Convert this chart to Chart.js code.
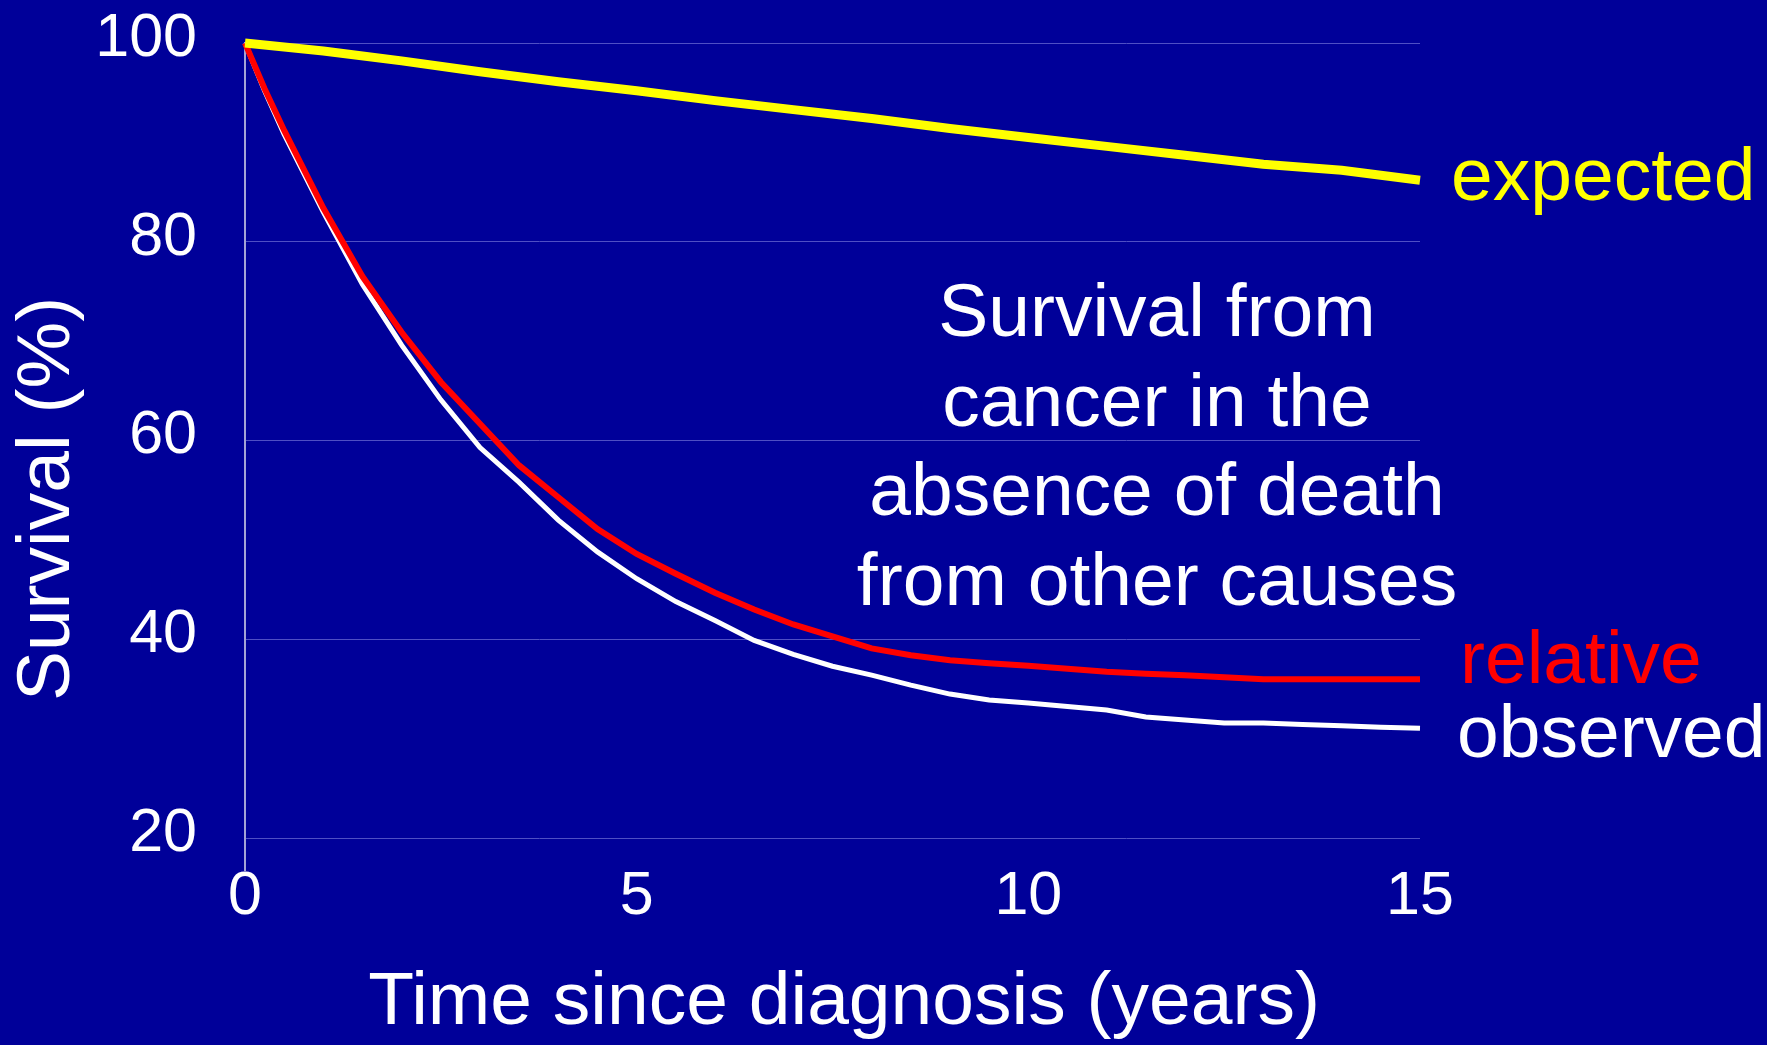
<!DOCTYPE html>
<html><head><meta charset="utf-8">
<script src="https://cdn.jsdelivr.net/npm/chart.js@4/dist/chart.umd.min.js"></script>
<style>html,body{margin:0;padding:0;background:#000099;overflow:hidden}canvas{display:block}</style>
</head><body>
<canvas id="c" width="1767" height="1045"></canvas>
<script>
// ---- data ----
const yearsExpected = [0,1,2,3,4,5,6,7,8,9,10,11,12,13,14,15];
const expected = [100,99.2,98.2,97.1,96.1,95.2,94.2,93.3,92.4,91.4,90.5,89.6,88.7,87.8,87.2,86.2];
const yearsMain = [0,0.25,0.5,1,1.5,2,2.5,3,3.5,4,4.5,5,5.5,6,6.5,7,7.5,8,8.5,9,9.5,10,10.5,11,11.5,12,12.5,13,13.5,14,14.5,15];
const relative = [100,95.4,91.2,83.4,76.5,70.9,65.9,61.7,57.5,54.3,51.1,48.6,46.6,44.7,43.0,41.5,40.3,39.1,38.4,37.9,37.6,37.35,37.05,36.75,36.55,36.4,36.2,36.0,36.0,36.0,36.0,36.0];
const observed = [100,95.2,90.8,83.0,75.7,69.6,64.1,59.3,55.8,52.0,48.8,46.1,43.8,41.9,39.9,38.5,37.3,36.4,35.4,34.5,33.9,33.6,33.25,32.9,32.2,31.9,31.6,31.6,31.45,31.3,31.15,31.05];
const xTicks = [0,5,10,15];
const yTicks = [20,40,60,80,100];
const seriesNames = ['expected','relative','observed'];
const seriesColors = ['#ffff00','#ff0000','#ffffff'];
const noteLines = ['Survival from','cancer in the','absence of death','from other causes'];
const xTitle = 'Time since diagnosis (years)';
const yTitle = 'Survival (%)';

const FONT = "'Liberation Sans', Arial, Helvetica, sans-serif";
const pts = (xs, ys) => xs.map((x, i) => ({x, y: ys[i]}));

const textPlugin = {
  id: 'texts',
  beforeDraw(chart) {
    const ctx = chart.ctx;
    ctx.save();
    ctx.fillStyle = '#000099';
    ctx.fillRect(0, 0, chart.width, chart.height);
    ctx.restore();
  },
  afterDraw(chart) {
    const ctx = chart.ctx;
    const area = chart.chartArea;
    ctx.save();
    ctx.font = '75px ' + FONT;
    ctx.textBaseline = 'alphabetic';
    // series labels
    ctx.textAlign = 'left';
    const lx = [area.right + 31, area.right + 40, area.right + 37];
    const ly = [200, 683, 757];
    seriesNames.forEach((n, i) => {
      ctx.fillStyle = seriesColors[i];
      ctx.fillText(n, lx[i], ly[i]);
    });
    // note
    ctx.fillStyle = '#ffffff';
    ctx.textAlign = 'center';
    noteLines.forEach((t, i) => ctx.fillText(t, 1157, 336 + i * 89.7));
    // axis titles
    ctx.fillText(xTitle, 844, 1024);
    ctx.translate(69, 499);
    ctx.rotate(-Math.PI / 2);
    ctx.fillText(yTitle, 0, 0);
    ctx.restore();
  }
};

new Chart(document.getElementById('c'), {
  type: 'line',
  data: {
    datasets: [
      {label: seriesNames[0], data: pts(yearsExpected, expected), borderColor: seriesColors[0], borderWidth: 9, pointRadius: 0, tension: 0, clip: false},
      {label: seriesNames[1], data: pts(yearsMain, relative), borderColor: seriesColors[1], borderWidth: 6, pointRadius: 0, tension: 0, clip: false},
      {label: seriesNames[2], data: pts(yearsMain, observed), borderColor: seriesColors[2], borderWidth: 5, pointRadius: 0, tension: 0, clip: false}
    ]
  },
  options: {
    responsive: false,
    animation: false,
    devicePixelRatio: 1,
    layout: {padding: {top: 43, right: 347, left: 0, bottom: 0}},
    plugins: {legend: {display: false}, tooltip: {enabled: false}},
    scales: {
      x: {
        type: 'linear', min: 0, max: 15,
        afterBuildTicks: s => { s.ticks = xTicks.map(v => ({value: v})); },
        afterFit: s => { s.height = 175; s.paddingLeft = 0; s.paddingRight = 0; },
        grid: {display: false, drawTicks: false},
        border: {display: false},
        ticks: {color: '#ffffff', font: {family: FONT, size: 61}, padding: -9, maxRotation: 0, autoSkip: false}
      },
      y: {
        type: 'linear', min: 16.8, max: 100,
        afterBuildTicks: s => { s.ticks = yTicks.map(v => ({value: v})); },
        afterFit: s => { s.width = 245; s.paddingTop = 0; s.paddingBottom = 0; },
        grid: {color: '#4f4fc4', lineWidth: 1, drawTicks: false},
        border: {display: true, color: '#a3a3d6', width: 2},
        ticks: {color: '#ffffff', font: {family: FONT, size: 61}, padding: 48, labelOffset: -4, autoSkip: false}
      }
    }
  },
  plugins: [textPlugin]
});
</script>
</body></html>
